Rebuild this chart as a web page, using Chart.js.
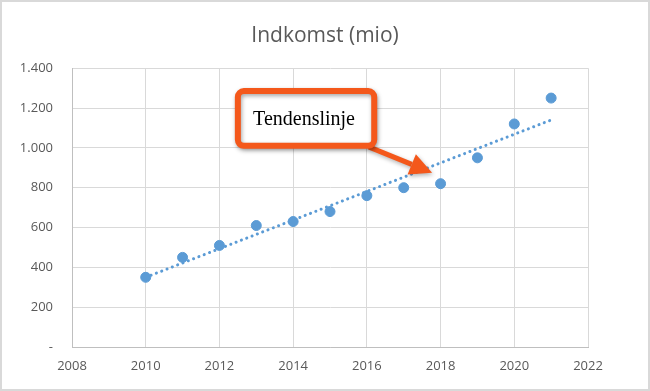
<!DOCTYPE html>
<html>
<head>
<meta charset="utf-8">
<script src="https://cdn.jsdelivr.net/npm/chart.js@4"></script>
<style>
  body { margin: 0; background: #fff; }
  canvas { display: block; }
</style>
</head>
<body>
<canvas id="chart" width="650" height="391"></canvas>
<script>
// data
const years = [2010, 2011, 2012, 2013, 2014, 2015, 2016, 2017, 2018, 2019, 2020, 2021];
const income = [350, 450, 510, 610, 630, 680, 760, 800, 820, 950, 1120, 1250];
// trendline ends as seen in the picture
const trendYears = [2010, 2021];
const trendValues = [350, 1140];
const xTicks = [2008, 2010, 2012, 2014, 2016, 2018, 2020, 2022];
const yTicks = [0, 200, 400, 600, 800, 1000, 1200, 1400];
const yTickLabels = ["-", "200", "400", "600", "800", "1.000", "1.200", "1.400"];

const BLUE = "#5B9BD5";
const ORANGE = "#F4581B";
const GREY_TXT = "#595959";

// ramme + tekstboks med pil
const annotationPlugin = {
  id: "annotation",
  afterDraw(chart) {
    const ctx = chart.ctx;
    const xs = chart.scales.x;
    const ys = chart.scales.y;
    const px = (v) => xs.getPixelForValue(v);
    const py = (v) => ys.getPixelForValue(v);

    ctx.save();
    // ydre ramme
    ctx.strokeStyle = "#D9D9D9";
    ctx.lineWidth = 2;
    ctx.strokeRect(1, 1, chart.width - 2, chart.height - 2);

    // pil
    const ax0 = px(2016.05), ay0 = py(1005);
    const ax1 = px(2017.77), ay1 = py(875);
    const ang = Math.atan2(ay1 - ay0, ax1 - ax0);
    const headLen = 22, headW = 11;
    const bx = ax1 - headLen * Math.cos(ang);
    const by = ay1 - headLen * Math.sin(ang);
    ctx.shadowColor = "rgba(0,0,0,0.3)";
    ctx.shadowBlur = 4;
    ctx.shadowOffsetX = 1;
    ctx.shadowOffsetY = 2;
    ctx.strokeStyle = ORANGE;
    ctx.fillStyle = ORANGE;
    ctx.lineWidth = 5;
    ctx.beginPath();
    ctx.moveTo(ax0, ay0);
    ctx.lineTo(bx, by);
    ctx.stroke();
    ctx.beginPath();
    ctx.moveTo(ax1, ay1);
    ctx.lineTo(bx + headW * Math.sin(ang), by - headW * Math.cos(ang));
    ctx.lineTo(bx - headW * Math.sin(ang), by + headW * Math.cos(ang));
    ctx.closePath();
    ctx.fill();

    // boks
    const l = px(2012.5), r = px(2016.2);
    const t = py(1285), b = py(1010);
    ctx.beginPath();
    ctx.roundRect(l, t, r - l, b - t, 6);
    ctx.fillStyle = "#fff";
    ctx.fill();
    ctx.shadowColor = "rgba(0,0,0,0.35)";
    ctx.lineWidth = 6;
    ctx.stroke();
    ctx.shadowColor = "transparent";

    ctx.fillStyle = "#000";
    ctx.font = "20px 'Liberation Serif', serif";
    ctx.textAlign = "center";
    ctx.textBaseline = "middle";
    ctx.fillText("Tendenslinje", (l + r) / 2 - 2, (t + b) / 2 + 1);
    ctx.restore();
  },
};

new Chart(document.getElementById("chart"), {
  type: "scatter",
  data: {
    datasets: [
      {
        label: "Indkomst",
        data: years.map((y, i) => ({ x: y, y: income[i] })),
        backgroundColor: BLUE,
        borderColor: BLUE,
        pointRadius: 5,
        pointHoverRadius: 5,
        order: 1,
      },
      {
        label: "Tendenslinje",
        type: "line",
        data: trendYears.map((y, i) => ({ x: y, y: trendValues[i] })),
        borderColor: BLUE,
        borderWidth: 3,
        borderDash: [0.1, 5.6],
        borderCapStyle: "round",
        pointRadius: 0,
        fill: false,
        order: 2,
      },
    ],
  },
  options: {
    responsive: false,
    animation: false,
    layout: { padding: 0 },
    plugins: {
      legend: { display: false },
      tooltip: { enabled: false },
      title: {
        display: true,
        text: "Indkomst (mio)",
        color: GREY_TXT,
        font: { family: "'Open Sans', sans-serif", size: 21, weight: "normal" },
        padding: { top: 23, bottom: 20 },
      },
    },
    scales: {
      x: {
        type: "linear",
        min: 2008,
        max: 2022,
        afterBuildTicks: (scale) => {
          scale.ticks = xTicks.map((v) => ({ value: v }));
        },
        afterFit: (scale) => {
          scale.height = 44;
        },
        ticks: {
          color: GREY_TXT,
          font: { family: "'Open Sans', sans-serif", size: 13 },
          padding: 11,
          maxRotation: 0,
          callback: (v) => String(v),
        },
        grid: { color: "#D9D9D9", drawTicks: false },
        border: { color: "#BFBFBF", width: 1 },
      },
      y: {
        min: 0,
        max: 1400,
        afterBuildTicks: (scale) => {
          scale.ticks = yTicks.map((v) => ({ value: v }));
        },
        afterFit: (scale) => {
          scale.width = 72;
        },
        ticks: {
          color: GREY_TXT,
          font: { family: "'Open Sans', sans-serif", size: 13 },
          padding: 19,
          callback: (v) => yTickLabels[yTicks.indexOf(v)],
        },
        grid: { color: "#D9D9D9", drawTicks: false },
        border: { color: "#BFBFBF", width: 1 },
      },
      // tom højre akse som holder plads til højre for plotområdet
      yRight: {
        position: "right",
        min: 0,
        max: 1400,
        afterFit: (scale) => {
          scale.width = 62;
        },
        ticks: { display: false },
        grid: { display: false, drawTicks: false },
        border: { display: false },
      },
    },
  },
  plugins: [annotationPlugin],
});
</script>
</body>
</html>
